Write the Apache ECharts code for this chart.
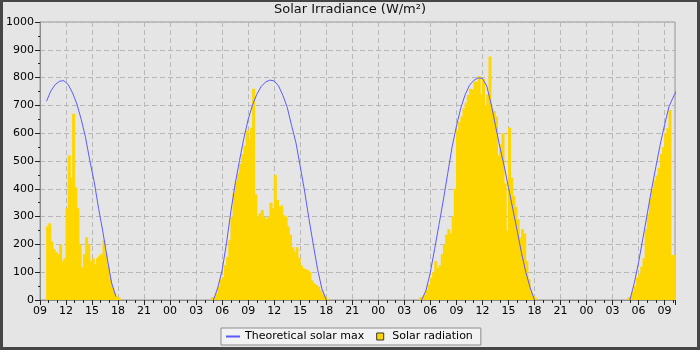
<!DOCTYPE html>
<html><head><meta charset="utf-8">
<script src="https://cdn.jsdelivr.net/npm/echarts@6/dist/echarts.min.js"></script>
<style>
html,body{margin:0;padding:0;background:#e5e5e5;}
#wrap{position:relative;width:700px;height:350px;}
#chart{width:700px;height:350px;}
#frame{position:absolute;left:0;top:0;width:700px;height:350px;box-sizing:border-box;border:3px solid #464646;border-top-width:2px;pointer-events:none;}
</style></head><body>
<div id="wrap"><div id="chart"></div><div id="frame"></div></div>
<script>
// ---- text ----
const chartTitle = 'Solar Irradiance (W/m²)';
const lineName = 'Theoretical solar max';
const barName = 'Solar radiation';

// ---- x axis (hours since 09:00 of the first day) ----
const axisStartHour = 9;
const axisSpanHours = 73.2;
const tickEveryHours = 3;

// ---- solar radiation, 15-minute values ----
const radiationStepHours = 0.25;
const day1RadiationStart = [0, '09:45'];
const day1Radiation = [265, 276, 210, 183, 172, 165, 200, 140, 150, 330, 520, 440, 670, 405, 330, 200, 118, 165, 225, 200,
  140, 150, 130, 150, 160, 166, 215, 165, 120, 75, 45, 25, 13, 8];
const day2RadiationStart = [1, '04:45'];
const day2Radiation = [10, 12, 24, 48, 75, 82, 125, 155, 215, 300, 385, 425, 455, 490, 525, 555, 610, 580, 620, 760,
  380, 300, 312, 324, 300, 292, 300, 350, 330, 450, 360, 335, 340, 305, 300, 265, 235, 190, 175, 190,
  152, 125, 114, 110, 108, 100, 70, 60, 54, 48, 35, 22, 12, 6];
const day3RadiationStart = [2, '04:45'];
const day3Radiation = [10, 12, 20, 35, 55, 80, 100, 140, 115, 125, 165, 200, 235, 255, 240, 300, 400, 610, 640, 660,
  690, 710, 738, 760, 758, 786, 785, 805, 740, 795, 700, 740, 876, 690, 680, 660, 520, 560, 600, 420,
  250, 620, 440, 375, 335, 290, 225, 255, 240, 140, 75, 30, 14, 8];
const day4RadiationStart = [3, '04:45'];
const day4Radiation = [10, 14, 30, 50, 80, 95, 120, 150, 255, 310, 365, 400, 430, 448, 475, 525, 550, 600, 618, 684, 162, 162];

// ---- theoretical solar max, 30-minute values ----
const curveStepHours = 0.5;
const day1CurveStart = [0, '09:45'];
const day1Curve = [715, 752, 775, 787, 789, 775, 745, 705, 650, 585, 500, 425, 330, 245, 150, 62, 12];
const day2CurveStart = [1, '05:00'];
const day2Curve = [0, 45, 108, 205, 318, 418, 502, 582, 650, 702, 740, 768, 784, 791, 788, 770, 736, 693, 628, 566,
  480, 392, 293, 200, 110, 40, 0];
const day3CurveStart = [2, '05:00'];
const day3Curve = [0, 35, 100, 185, 272, 360, 455, 550, 625, 690, 738, 772, 790, 799, 797, 770, 705, 628, 552, 483,
  405, 328, 250, 170, 100, 45, 0];
const day4CurveStart = [3, '05:00'];
const day4Curve = [0, 60, 135, 222, 310, 398, 480, 560, 630, 695, 730, 760];

// ---- build ----
function toHours(start) {
  const parts = start[1].split(':').map(Number);
  return start[0] * 24 + parts[0] + parts[1] / 60 - axisStartHour;
}
const radiationDays = [[day1RadiationStart, day1Radiation], [day2RadiationStart, day2Radiation],
  [day3RadiationStart, day3Radiation], [day4RadiationStart, day4Radiation]];
const curveDays = [[day1CurveStart, day1Curve], [day2CurveStart, day2Curve],
  [day3CurveStart, day3Curve], [day4CurveStart, day4Curve]];

const barData = [];
radiationDays.forEach(([s, vals]) => {
  const t0 = toHours(s);
  vals.forEach((v, i) => barData.push([t0 + radiationStepHours * (i + 0.5), v]));
});
const lineData = [];
curveDays.forEach(([s, vals]) => {
  const t0 = toHours(s);
  vals.forEach((v, i) => lineData.push([t0 + curveStepHours * i, v]));
  lineData.push([t0 + curveStepHours * (vals.length - 1) + 0.01, null]);
});

const font = 'DejaVu Sans';
const chart = echarts.init(document.getElementById('chart'), null, {renderer: 'canvas'});
chart.setOption({
  animation: false,
  backgroundColor: '#e5e5e5',
  title: {
    text: chartTitle, left: 'center', top: 3, padding: 0,
    textStyle: {fontFamily: font, fontSize: 13, fontWeight: 'normal', color: '#111'}
  },
  grid: {left: 40, right: 25, top: 22, bottom: 50, show: true, borderColor: '#999', borderWidth: 1,
    backgroundColor: 'transparent'},
  legend: {
    left: 221, top: 328, orient: 'horizontal',
    padding: [3, 8, 3, 5], itemWidth: 14, itemHeight: 7, itemGap: 12,
    backgroundColor: '#f2f2f2', borderColor: '#8c8c8c', borderWidth: 1,
    textStyle: {fontFamily: font, fontSize: 11, color: '#000'},
    data: [
      {name: lineName, icon: 'path://M0,0H14V2H0Z', itemStyle: {color: '#5b5bff'}},
      {name: barName, icon: 'path://M0,0H7V7H0Z', itemStyle: {color: '#ffd700', borderColor: '#333', borderWidth: 1}}
    ]
  },
  xAxis: {
    type: 'value', min: 0, max: axisSpanHours, interval: tickEveryHours,
    axisLine: {show: true, lineStyle: {color: '#8c8c8c'}},
    axisTick: {show: true, length: 5, lineStyle: {color: '#222'}},
    minorTick: {show: true, splitNumber: 3, length: 3, lineStyle: {color: '#222'}},
    axisLabel: {
      margin: 6, fontFamily: font, fontSize: 11, color: '#000', showMaxLabel: false,
      formatter: v => {
        const k = v / tickEveryHours;
        if (Math.abs(k - Math.round(k)) > 1e-6) return '';
        return String((axisStartHour + Math.round(v)) % 24).padStart(2, '0');
      }
    },
    splitLine: {show: true, lineStyle: {color: '#b8b8b8', type: [5, 3], width: 1}}
  },
  yAxis: {
    type: 'value', min: 0, max: 1000, interval: 100,
    axisLine: {show: true, lineStyle: {color: '#8c8c8c'}},
    axisTick: {show: true, length: 5, lineStyle: {color: '#222'}},
    minorTick: {show: true, splitNumber: 2, length: 2, lineStyle: {color: '#222'}},
    axisLabel: {margin: 6, fontFamily: font, fontSize: 11, color: '#000', formatter: v => String(Math.round(v))},
    splitLine: {show: true, lineStyle: {color: '#b8b8b8', type: [5, 3], width: 1}}
  },
  series: [
    {
      name: barName, type: 'bar', data: barData, barWidth: 3,
      itemStyle: {color: '#ffd700'}, z: 2, large: false
    },
    {
      name: lineName, type: 'line', data: lineData, symbol: 'none', showSymbol: false,
      connectNulls: false, lineStyle: {color: '#5b5bff', width: 1}, itemStyle: {color: '#5b5bff'}, z: 3
    }
  ]
});
</script>
</body></html>
